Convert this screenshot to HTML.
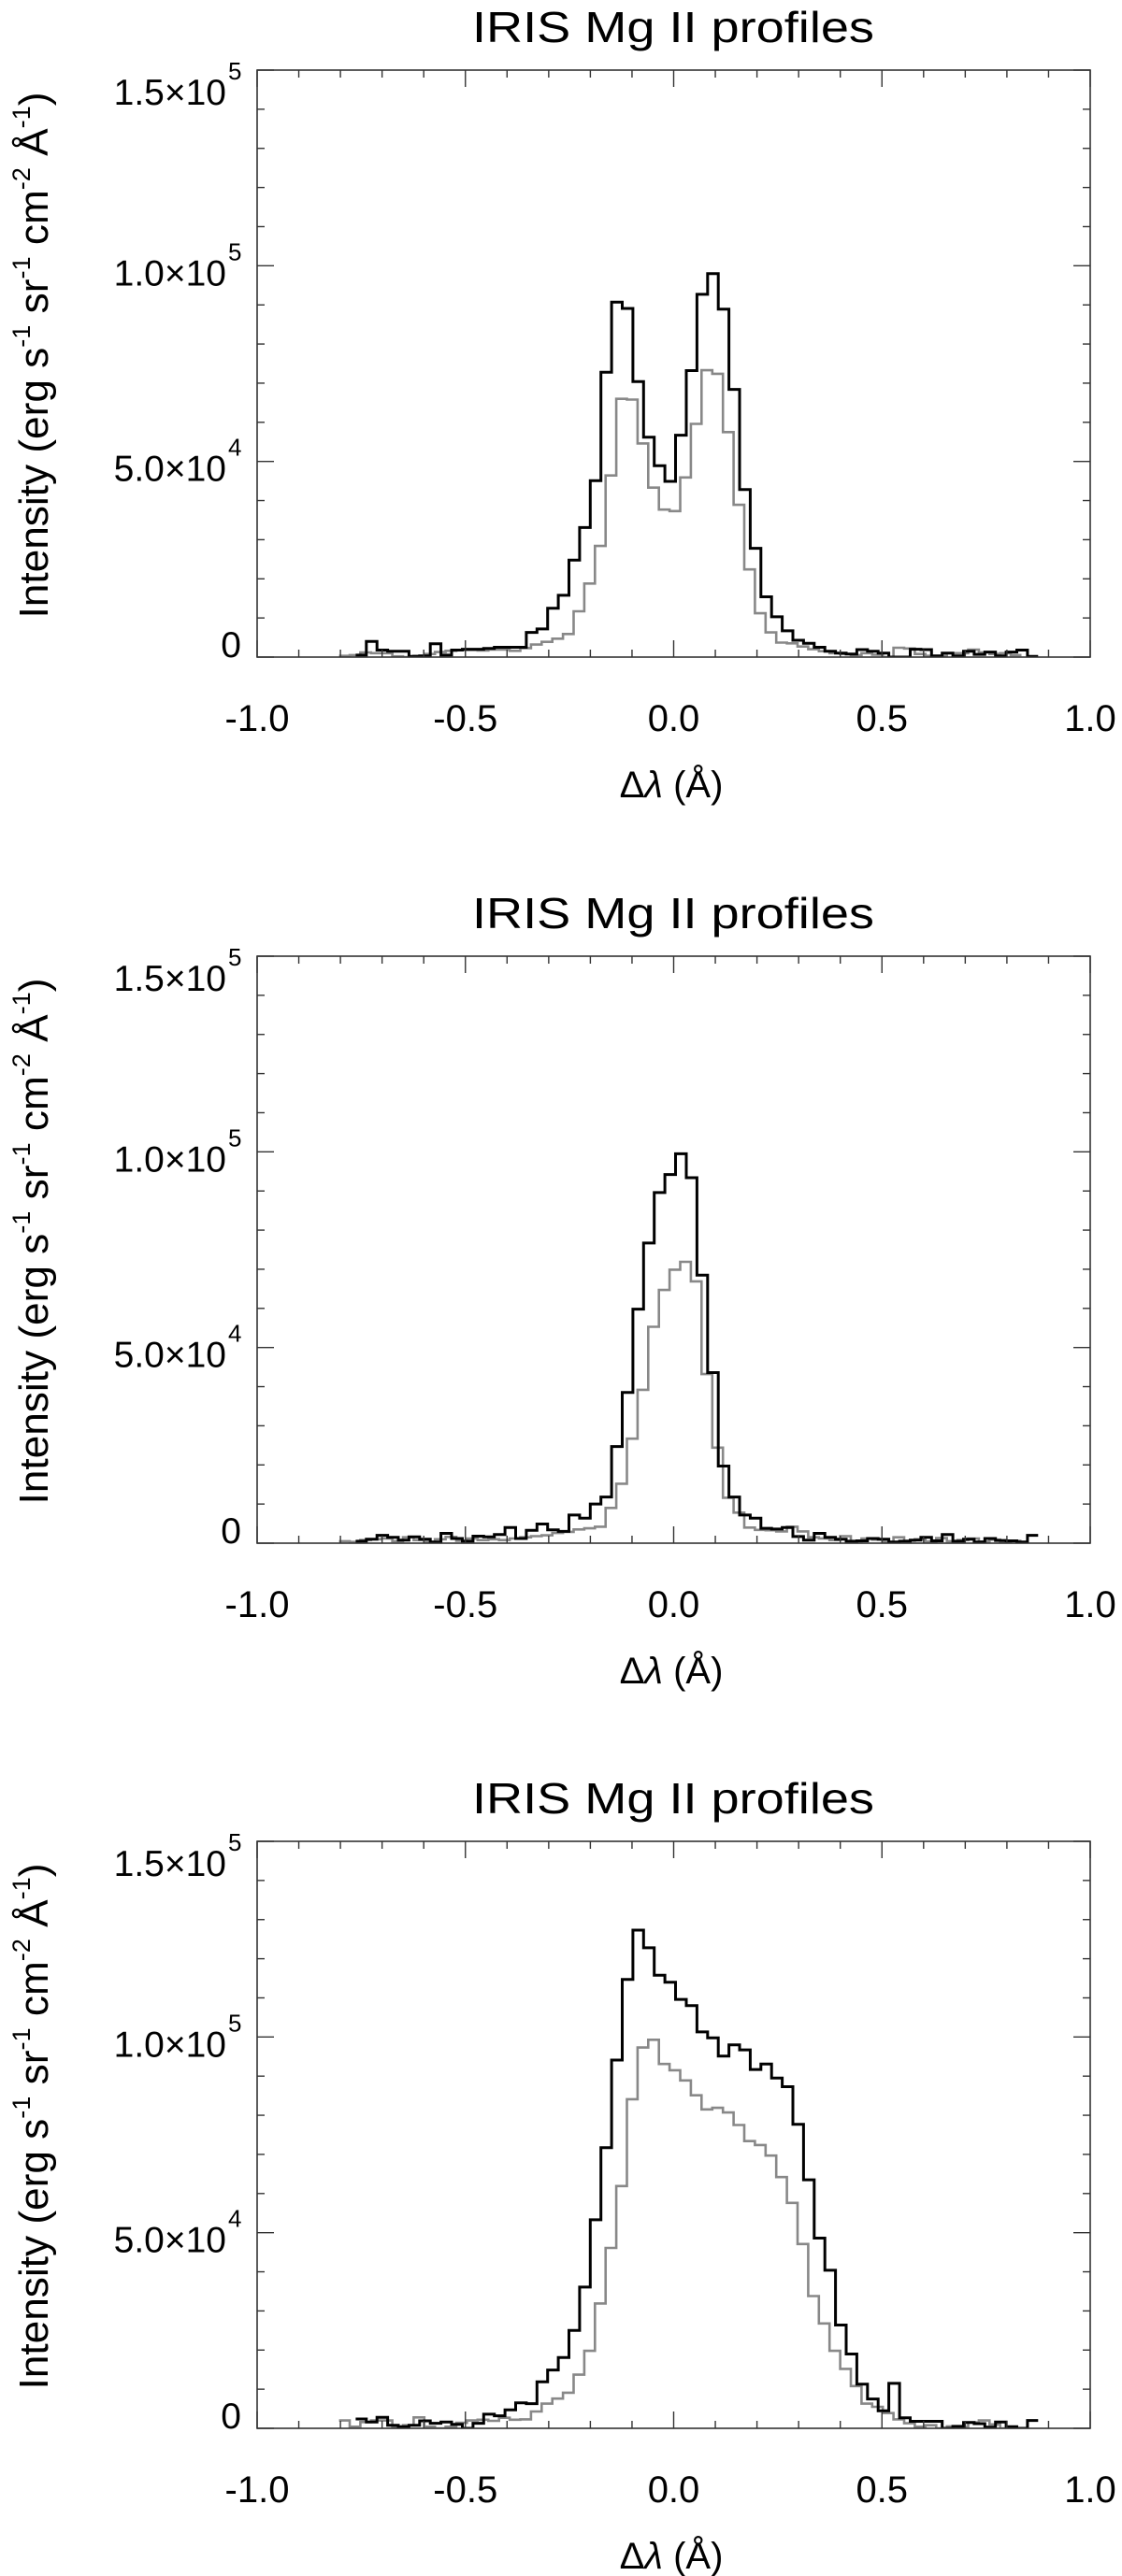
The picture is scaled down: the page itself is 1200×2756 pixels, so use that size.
<!DOCTYPE html>
<html><head><meta charset="utf-8"><title>IRIS Mg II profiles</title>
<style>
html,body{margin:0;padding:0;background:#fff;}
svg{display:block;font-family:"Liberation Sans",Arial,sans-serif;}
</style></head>
<body>
<svg id="fig" width="1200" height="2756" viewBox="0 0 1200 2756" xmlns="http://www.w3.org/2000/svg"></svg>
<script>
// ---- data (intensity in units of 1e3 erg s^-1 sr^-1 cm^-2 Å^-1) ----
const lambdaStartBlack = -0.8146;
const lambdaStartGray = -0.8034;
const lambdaStep = 0.0256;
const xTicks = [-1.0, -0.5, 0.0, 0.5, 1.0];
const xTickLabels = ["-1.0", "-0.5", "0.0", "0.5", "1.0"];
const yTicks = [0, 50000, 100000, 150000];
const yTickMant = ["0", "5.0", "1.0", "1.5"];
const yTickExp = ["", "4", "5", "5"];

const black1 = [null,null,0.5,4.0,1.8,1.5,1.5,0.2,0.3,3.4,0.5,1.8,2.0,2.0,2.2,2.5,2.5,2.5,
 6.3,7.2,12.5,15.8,24.8,33.1,45.1,72.8,90.7,89.1,70.4,56.2,48.9,44.9,56.7,73.2,92.7,98.0,88.9,68.4,42.8,27.8,15.4,10.3,6.7,4.3,3.5,
 2.5,1.5,1.0,0.8,1.9,1.5,1.0,0,0,2.0,1.9,0.3,1.0,0.3,1.5,0.7,1.3,0.3,1.3,1.8,0.2];
const gray1 = [0.3,0.5,1.2,1.0,1.0,0.2,0,0.3,0.8,1.3,1.6,1.8,1.8,1.7,1.9,1.9,1.6,2.3,
 3.2,3.9,4.7,5.9,11.7,18.8,28.4,46.4,66.0,65.8,54.6,43.3,37.7,37.3,45.9,59.6,73.3,72.4,57.5,38.9,22.4,11.2,6.3,3.7,3.5,2.7,
 2.0,1.5,1.0,0.8,0.5,1.0,0.6,0,2.4,2.2,0.8,0.3,0.3,1.0,1.0,1.9,1.2,0.8,1.0,0.5];

const black2 = [null,null,0.5,1.0,2.0,1.5,0.8,1.6,1.0,0.3,2.5,1.2,0.5,1.8,
 1.6,2.2,4.0,1.2,3.3,4.9,3.4,3.0,7.2,6.4,10.0,11.8,24.7,38.5,59.8,76.7,89.6,94.2,99.5,93.4,68.5,43.6,19.7,11.8,7.2,6.4,3.8,3.6,4.0,1.7,
 0.8,2.5,1.5,1.0,0.5,0.6,1.2,1.0,0.3,0.5,0.8,1.5,0.6,2.2,0.5,1.0,0.3,1.2,0.7,0.6,0.3,2.0];
const gray2 = [0.5,0.3,0.8,1.0,1.2,0.5,1.5,0.8,0.3,1.0,1.6,0.6,1.2,0.8,1.0,0.8,
 1.2,1.5,1.8,2.0,2.6,2.9,3.5,3.8,4.2,9.0,15.2,26.7,39.2,55.3,64.7,69.9,71.9,66.9,43.2,24.4,11.6,7.8,4.0,3.4,3.3,3.0,4.2,
 3.0,1.5,1.2,0.8,1.8,0.5,1.2,0.9,0.3,1.5,0.6,1.0,0.4,1.3,0.5,0.8,1.2,0.4,0.9,0.3,0.6];

const black3 = [null,null,2.4,1.6,2.8,0.8,0.4,0.8,1.9,1.3,1.6,1.0,0,1.3,
 3.6,3.2,4.7,6.5,6.3,11.9,14.9,18.1,25.0,36.1,53.3,71.7,94.1,114.7,127.3,122.8,115.8,114.0,109.6,108.0,101.3,99.8,95.1,98.0,96.7,91.7,93.1,89.5,87.3,77.7,63.5,48.6,40.4,26.4,19.0,11.3,7.5,4.5,11.5,2.7,1.8,1.8,
 1.8,0,0.5,1.5,1.2,0.3,1.6,0.4,0,2.0];
const gray3 = [2.0,0.4,1.6,2.0,2.0,0.4,0.8,2.8,0.4,0,0.4,1.4,2.0,2.2,
 1.9,2.7,2.2,2.3,4.3,6.3,7.6,9.1,13.7,19.8,31.9,46.1,61.9,84.1,97.3,99.3,93.1,91.5,88.9,85.1,81.5,81.9,80.7,77.5,73.4,72.4,69.7,64.2,57.6,47.1,33.8,26.8,19.8,15.2,10.8,6.3,5.5,3.9,2.3,1.3,0.4,0.8,
 0,0.5,0.3,1.5,2.0,1.0,0,0];

const panels = [
  {top: 75, black: black1, gray: gray1},
  {top: 1023, black: black2, gray: gray2},
  {top: 1970, black: black3, gray: gray3}
];

// ---- layout ----
const NS = "http://www.w3.org/2000/svg";
const svg = document.getElementById("fig");
const L = 275, R = 1166, H = 628;
const xMin = -1, xMax = 1, yMin = 0, yMax = 150000;
function xScale(v){ return L + (v - xMin) / (xMax - xMin) * (R - L); }
function yScaleFor(top){ return v => top + H - (v - yMin) / (yMax - yMin) * H; }
function mk(tag, attrs, parent){
  const e = document.createElementNS(NS, tag);
  for (const k in attrs) e.setAttribute(k, attrs[k]);
  (parent || svg).appendChild(e);
  return e;
}

function stepPath(vals, start, ys){
  let d = "", open = false;
  for (let i = 0; i < vals.length; i++){
    const v = vals[i];
    if (v === null){ open = false; continue; }
    const x0 = xScale(start + i * lambdaStep), x1 = xScale(start + (i + 1) * lambdaStep);
    const y = ys(v * 1000);
    if (!open){ d += "M" + x0.toFixed(1) + "," + y.toFixed(1); open = true; }
    else d += "V" + y.toFixed(1);
    d += "H" + x1.toFixed(1);
  }
  return d;
}

panels.forEach((p, pi) => {
  const T = p.top, B = T + H;
  const ys = yScaleFor(T);
  const g = mk("g", {});
  
  

  const cp = mk("clipPath", {id: "clip" + pi}, g);
  mk("rect", {x: L, y: T, width: R - L, height: H}, cp);

  const title = mk("text", {x: 720, y: T - 30, "text-anchor": "middle", "font-size": 46, fill: "#000", textLength: 430, lengthAdjust: "spacingAndGlyphs"}, g);
  title.textContent = "IRIS Mg II profiles";
  
  

  const gp = mk("path", {d: stepPath(p.gray, lambdaStartGray, ys), fill: "none", stroke: "#888", "stroke-width": 2.6, "clip-path": "url(#clip" + pi + ")"}, g);
  
  
  const bp = mk("path", {d: stepPath(p.black, lambdaStartBlack, ys), fill: "none", stroke: "#000", "stroke-width": 3, "clip-path": "url(#clip" + pi + ")"}, g);
  
  

  const fr = mk("rect", {x: L, y: T, width: R - L, height: H, fill: "none", stroke: "#333", "stroke-width": 1.6}, g);
  
  

  for (let k = 0; k <= 20; k++){
    const v = -1 + k * 0.1;
    const x = xScale(v);
    const major = (k % 5 === 0);
    const len = major ? 18 : 8;
    mk("line", {x1: x, y1: B, x2: x, y2: B - len, stroke: "#333", "stroke-width": 1.4}, g);
    mk("line", {x1: x, y1: T, x2: x, y2: T + len, stroke: "#333", "stroke-width": 1.4}, g);
  }
  xTicks.forEach((v, i) => {
    const t = mk("text", {x: xScale(v), y: B + 79, "text-anchor": "middle", "font-size": 40, fill: "#000"}, g);
    t.textContent = xTickLabels[i];
    
    
  });

  for (let k = 0; k <= 15; k++){
    const y = ys(k * 10000);
    const major = (k % 5 === 0);
    const len = major ? 18 : 8;
    mk("line", {x1: L, y1: y, x2: L + len, y2: y, stroke: "#333", "stroke-width": 1.4}, g);
    mk("line", {x1: R, y1: y, x2: R - len, y2: y, stroke: "#333", "stroke-width": 1.4}, g);
  }
  yTicks.forEach((v, i) => {
    const ty = ys(v);
    const off = (i === 0) ? 0 : (i === yTicks.length - 1 ? 37 : 21);
    const t = mk("text", {x: i === 0 ? 258 : 242, y: ty + off, "text-anchor": "end", "font-size": 39, fill: "#000"}, g);
    t.textContent = yTickMant[i] + (i === 0 ? "" : "\u00d710");
    
    
    if (yTickExp[i]){
      const s = mk("text", {x: 244, y: ty + off - 27, "font-size": 26, fill: "#000"}, g);
      s.textContent = yTickExp[i];
      
      
    }
  });

  const yt = mk("text", {x: 0, y: 0, "font-size": 44, fill: "#000", "text-anchor": "middle", textLength: 563, lengthAdjust: "spacingAndGlyphs", transform: "translate(51," + (T + 305) + ") rotate(-90)"}, g);
  yt.innerHTML = 'Intensity (erg s<tspan dy="-19" font-size="27">-1</tspan><tspan dy="19"> sr</tspan><tspan dy="-19" font-size="27">-1</tspan><tspan dy="19"> cm</tspan><tspan dy="-19" font-size="27">-2</tspan><tspan dy="19"> Å</tspan><tspan dy="-19" font-size="27">-1</tspan><tspan dy="19">)</tspan>';
  
  

  const xt = mk("text", {x: 718, y: B + 150, "text-anchor": "middle", "font-size": 40, fill: "#000"}, g);
  xt.innerHTML = 'Δ<tspan font-style="italic">λ</tspan> (Å)';
  
  
});
</script>
</body></html>
